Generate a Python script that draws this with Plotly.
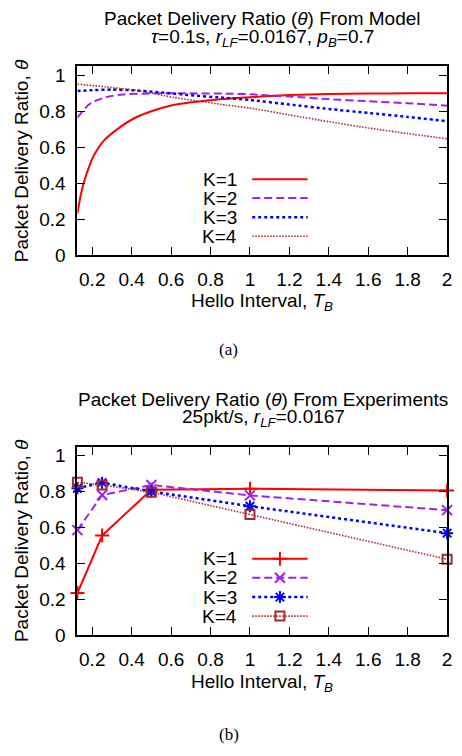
import plotly.graph_objects as go

W, H = 462, 756

# ---------------- data ----------------
series_names = ["K=1", "K=2", "K=3", "K=4"]

# Model curves
model_x_k1 = [0.125, 0.142, 0.159, 0.184, 0.209, 0.259, 0.328, 0.411, 0.5, 0.6, 0.7, 0.8, 0.9, 1.0, 1.2, 1.4, 1.6, 1.8, 2.0]
model_y_k1 = [0.23, 0.336, 0.409, 0.491, 0.555, 0.637, 0.701, 0.76, 0.80, 0.832, 0.85, 0.862, 0.871, 0.879, 0.891, 0.897, 0.899, 0.9, 0.9]

model_x_k2 = [0.125, 0.15, 0.175, 0.2, 0.25, 0.3, 0.36, 0.5, 0.7, 0.9, 1.0, 1.2, 1.4, 1.6, 1.8, 2.0]
model_y_k2 = [0.765, 0.80, 0.83, 0.85, 0.872, 0.886, 0.894, 0.9, 0.9, 0.898, 0.895, 0.882, 0.868, 0.856, 0.845, 0.831]

model_x_k3 = [0.125, 0.2, 0.3, 0.4, 0.55, 0.7, 0.87, 1.0, 1.2, 1.4, 1.6, 1.8, 2.0]
model_y_k3 = [0.913, 0.918, 0.921, 0.918, 0.905, 0.89, 0.875, 0.863, 0.838, 0.813, 0.791, 0.769, 0.745]

model_x_k4 = [0.125, 0.27, 0.44, 0.61, 0.885, 1.0, 1.2, 1.4, 1.6, 1.8, 2.0]
model_y_k4 = [0.951, 0.936, 0.914, 0.878, 0.834, 0.818, 0.78, 0.742, 0.707, 0.676, 0.647]

exp_x = [0.125, 0.25, 0.5, 1.0, 2.0]
exp_y_k1 = [0.235, 0.555, 0.81, 0.815, 0.805]
exp_y_k2 = [0.585, 0.78, 0.836, 0.778, 0.696]
exp_y_k3 = [0.818, 0.849, 0.80, 0.718, 0.568]
exp_y_k4 = [0.851, 0.836, 0.796, 0.672, 0.423]

x_ticks = [0.2, 0.4, 0.6, 0.8, 1.0, 1.2, 1.4, 1.6, 1.8, 2.0]
x_tick_labels = ["0.2", "0.4", "0.6", "0.8", "1", "1.2", "1.4", "1.6", "1.8", "2"]
y_ticks = [0, 0.2, 0.4, 0.6, 0.8, 1.0]
y_tick_labels = ["0", "0.2", "0.4", "0.6", "0.8", "1"]

# ---------------- styles ----------------
colors = ["#ff0000", "#a020f0", "#0000ff", "#a52a2a"]
dashes = ["solid", "8px,4px", "3px,3px", "1.5px,1.5px"]
widths = [2, 2, 2.5, 1.6]
symbols = ["cross-thin-open", "x-thin-open", "asterisk-open", "square-open"]
msizes = [10, 10, 10, 9]

FONT = "Liberation Sans, Arial, sans-serif"
FS = 19

def px(x):
    return x / W

def py(y):
    return 1 - y / H

fig = go.Figure()

model = [(model_x_k1, model_y_k1), (model_x_k2, model_y_k2),
         (model_x_k3, model_y_k3), (model_x_k4, model_y_k4)]
for i, (xs, ys) in enumerate(model):
    fig.add_trace(go.Scatter(x=xs, y=ys, mode="lines", xaxis="x", yaxis="y",
                             line=dict(color=colors[i], dash=dashes[i], width=widths[i],
                                       shape="spline", smoothing=0.6),
                             showlegend=False, hoverinfo="skip"))

exp = [exp_y_k1, exp_y_k2, exp_y_k3, exp_y_k4]
for i, ys in enumerate(exp):
    fig.add_trace(go.Scatter(x=exp_x, y=ys, mode="lines+markers", xaxis="x2", yaxis="y2",
                             line=dict(color=colors[i], dash=dashes[i], width=widths[i]),
                             marker=dict(symbol=symbols[i], size=msizes[i], color=colors[i],
                                         line=dict(color=colors[i], width=2)),
                             showlegend=False, hoverinfo="skip", cliponaxis=False))

# ---------------- manual legends (pixel-space overlay axis) ----------------
leg_rows_top = [181, 200.3, 219.7, 239]
leg_rows_bot = [566.7, 586, 605.7, 625]
leg_x0, leg_x1, leg_xm, leg_txt = 255, 311, 283, 242

for i in range(4):
    for rows, with_marker in ((leg_rows_top, False), (leg_rows_bot, True)):
        yy = rows[i]
        fig.add_trace(go.Scatter(x=[leg_x0, leg_x1], y=[yy, yy], mode="lines", xaxis="x3", yaxis="y3",
                                 line=dict(color=colors[i], dash=dashes[i], width=widths[i]),
                                 showlegend=False, hoverinfo="skip"))
        if with_marker:
            fig.add_trace(go.Scatter(x=[leg_xm], y=[yy], mode="markers", xaxis="x3", yaxis="y3",
                                     marker=dict(symbol=symbols[i], size=msizes[i], color=colors[i],
                                                 line=dict(color=colors[i], width=2)),
                                     showlegend=False, hoverinfo="skip"))

annotations = []
for rows in (leg_rows_top, leg_rows_bot):
    for i, name in enumerate(series_names):
        annotations.append(dict(x=px(leg_txt), y=py(rows[i]), xref="paper", yref="paper",
                                text=name, showarrow=False, xanchor="right", yanchor="middle",
                                font=dict(family=FONT, size=FS, color="black")))

def txt(x, y, t, size=FS, family=FONT, angle=0):
    annotations.append(dict(x=px(x), y=py(y), xref="paper", yref="paper", text=t,
                            showarrow=False, xanchor="center", yanchor="middle",
                            textangle=angle, font=dict(family=family, size=size, color="black")))

txt(265, 18, "Packet Delivery Ratio (<i>θ</i>) From Model")
txt(265, 38, "<i>τ</i>=0.1s, <i>r<sub>LF</sub></i>=0.0167, <i>p<sub>B</sub></i>=0.7")
txt(22, 162, "Packet Delivery Ratio, <i>θ</i>", angle=-90)
txt(265, 306, "Hello Interval, <i>T<sub>B</sub></i>")
txt(231, 354, "(a)", size=17, family="Liberation Serif, Times New Roman, serif")

txt(266, 405, "Packet Delivery Ratio (<i>θ</i>) From Experiments")
txt(266, 424, "25pkt/s, <i>r<sub>LF</sub></i>=0.0167")
txt(22, 548, "Packet Delivery Ratio, <i>θ</i>", angle=-90)
txt(265, 693, "Hello Interval, <i>T<sub>B</sub></i>")
txt(231, 745, "(b)", size=17, family="Liberation Serif, Times New Roman, serif")

def xax(domain, anchor):
    return dict(domain=domain, anchor=anchor, range=[0.125, 2.0], tickvals=x_ticks,
                ticktext=x_tick_labels, ticks="inside", ticklen=8, tickwidth=1.2, tickcolor="black",
                showline=True, linecolor="black", linewidth=2, mirror="ticks",
                showgrid=False, zeroline=False, ticklabelstandoff=6,
                tickfont=dict(family=FONT, size=FS, color="black"), fixedrange=True)

def yax(domain, anchor):
    return dict(domain=domain, anchor=anchor, range=[0, 1.05], tickvals=y_ticks,
                ticktext=y_tick_labels, ticks="inside", ticklen=8, tickwidth=1.2, tickcolor="black",
                showline=True, linecolor="black", linewidth=2, mirror="ticks",
                showgrid=False, zeroline=False, ticklabelstandoff=6,
                tickfont=dict(family=FONT, size=FS, color="black"), fixedrange=True)

xd = [px(78.3), px(452)]
fig.update_layout(
    width=W, height=H,
    margin=dict(l=0, r=0, t=0, b=0),
    paper_bgcolor="white", plot_bgcolor="rgba(0,0,0,0)",
    xaxis=xax(xd, "y"), yaxis=yax([py(258), py(66.5)], "x"),
    xaxis2=xax(xd, "y2"), yaxis2=yax([py(644.5), py(452.7)], "x2"),
    xaxis3=dict(domain=[0, 1], anchor="y3", range=[0, W], visible=False, fixedrange=True),
    yaxis3=dict(domain=[0, 1], anchor="x3", range=[H, 0], visible=False, fixedrange=True),
    annotations=annotations,
    showlegend=False,
    modebar=dict(bgcolor="rgba(0,0,0,0)", color="rgba(0,0,0,0)", activecolor="rgba(0,0,0,0)"),
)

fig.write_html("out.html", config={"displayModeBar": False},
               post_script="document.body.style.margin='0';document.body.style.overflow='hidden';")
